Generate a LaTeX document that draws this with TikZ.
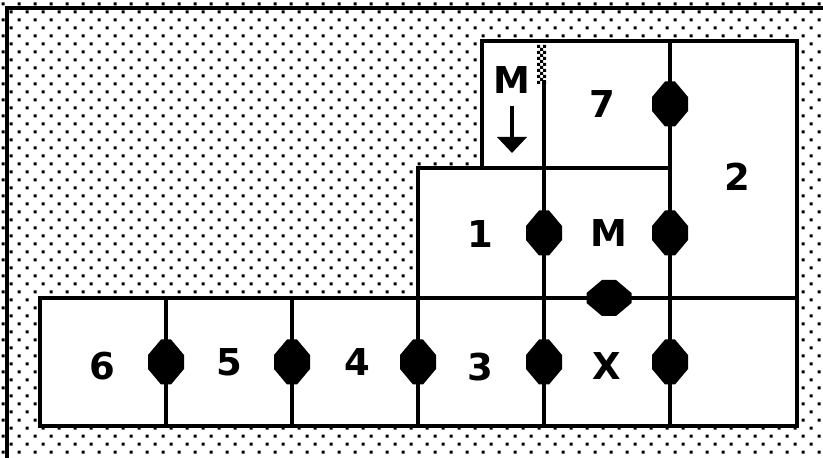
\documentclass[tikz,border=0pt]{standalone}
\usepackage{fontspec}
\setmainfont{DejaVu Sans}
\usetikzlibrary{arrows.meta}

\begin{document}
\begin{tikzpicture}[
	x=0.5pt, y=-0.5pt,
	wall/.style={ line width=2pt, line cap=rect },
	room/.style={ fill=white },
	door/.pic={ \fill (-5,-22.5) -- (5,-22.5) -- (18,-7) -- (18,7) -- (5,22.5) -- (-5,22.5) -- (-18,7) -- (-18,-7) -- cycle; },
	roomlabel/.style={ font=\fontsize{18.5}{18.5}\selectfont\bfseries, inner sep=0pt }
]
	\useasboundingbox (0,0) rectangle (823,458);
	\fill[white] (0,0) rectangle (823,458);
	\fill \foreach \y in {4,20,...,452} { \foreach \x in {3,19,...,819} { (\x-1.5,\y-1.5) rectangle ++(3,3) (\x+6.5,\y+6.5) rectangle ++(3,3) } };
	\draw[wall] (7,458) -- (7,8) -- (823,8);

	\fill[room] (40,298) rectangle (797,426);
	\fill[room] (418,168) rectangle (797,298);
	\fill[room] (482,41) rectangle (797,168);

	\draw[wall] (40,298) -- (418,298) -- (418,168) -- (482,168) -- (482,41) -- (797,41) -- (797,426) -- (40,426) -- cycle;
	\draw[wall] (418,298) -- (797,298);
	\draw[wall] (418,168) -- (670,168);
	\foreach \x in {166,292,418} { \draw[wall] (\x,298) -- (\x,426); }
	\draw[wall] (544,82) -- (544,426);
	\draw[wall] (670,41) -- (670,426);
	\fill \foreach \j in {0,2,...,12} { (537,45+3*\j) rectangle ++(3,3) (543,45+3*\j) rectangle ++(3,3) } \foreach \j in {1,3,...,11} { (540,45+3*\j) rectangle ++(3,3) };

	\foreach \x in {166,292,418,544,670} { \pic at (\x,362) {door}; }
	\foreach \x in {544,670} { \pic at (\x,233) {door}; }
	\pic at (670,104) {door};
	\pic[rotate=90] at (609,298) {door};

	\node[roomlabel] (mtop) at (512,80) {M};
	\node[roomlabel] (seven) at (602,104) {7};
	\node[roomlabel] (two) at (737,177) {2};
	\node[roomlabel] (one) at (480,234) {1};
	\node[roomlabel] (mmid) at (609,233) {M};
	\node[roomlabel] (six) at (102,366) {6};
	\node[roomlabel] (five) at (229,362) {5};
	\node[roomlabel] (four) at (357,362) {4};
	\node[roomlabel] (three) at (480,367) {3};
	\node[roomlabel] (ex) at (607,366) {X};

	\coordinate (arrowtip) at (512,153);
	\draw[line width=2pt, -{Triangle[length=8pt,width=14.5pt]}] ([yshift=-6pt]mtop.south) -- (arrowtip);
\end{tikzpicture}
\end{document}
